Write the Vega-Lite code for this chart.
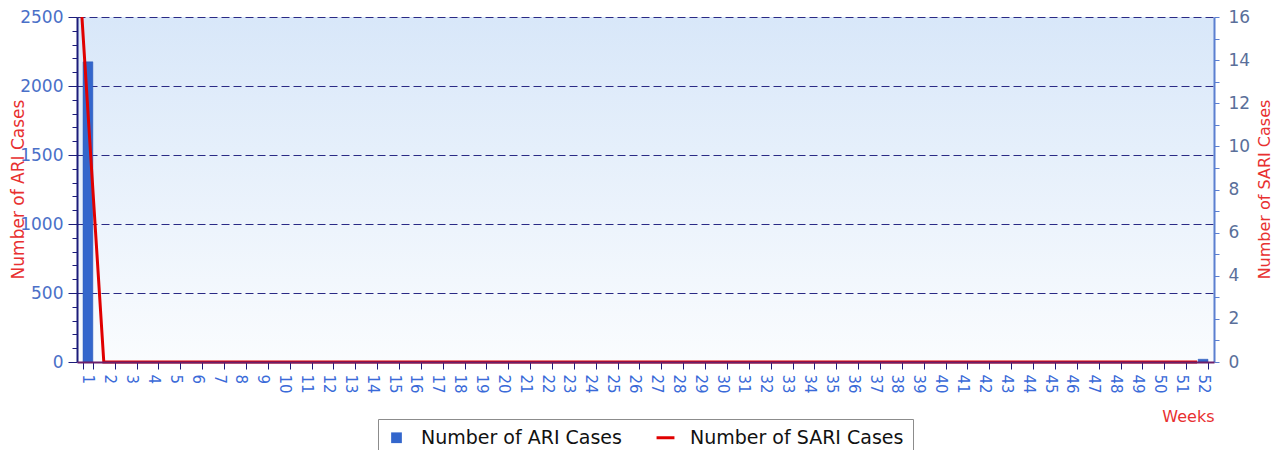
{
  "$schema": "https://vega.github.io/schema/vega-lite/v6.json",
  "width": 1137,
  "height": 345,
  "autosize": {"type": "none"},
  "padding": {"left": 77, "top": 17, "right": 59, "bottom": 88},
  "background": "#ffffff",
  "view": {
    "stroke": null,
    "fill": {
      "gradient": "linear", "x1": 0, "y1": 0, "x2": 0, "y2": 1,
      "stops": [{"offset": 0, "color": "#d8e7f9"}, {"offset": 1, "color": "#fafcfe"}]
    }
  },
  "config": {"font": "DejaVu Sans"},
  "data": {
    "values": [
      {"week": 1, "ari": 2175, "sari": 16},
      {"week": 2, "ari": 0, "sari": 0},
      {"week": 3, "ari": 0, "sari": 0},
      {"week": 4, "ari": 0, "sari": 0},
      {"week": 5, "ari": 0, "sari": 0},
      {"week": 6, "ari": 0, "sari": 0},
      {"week": 7, "ari": 0, "sari": 0},
      {"week": 8, "ari": 0, "sari": 0},
      {"week": 9, "ari": 0, "sari": 0},
      {"week": 10, "ari": 0, "sari": 0},
      {"week": 11, "ari": 0, "sari": 0},
      {"week": 12, "ari": 0, "sari": 0},
      {"week": 13, "ari": 0, "sari": 0},
      {"week": 14, "ari": 0, "sari": 0},
      {"week": 15, "ari": 0, "sari": 0},
      {"week": 16, "ari": 0, "sari": 0},
      {"week": 17, "ari": 0, "sari": 0},
      {"week": 18, "ari": 0, "sari": 0},
      {"week": 19, "ari": 0, "sari": 0},
      {"week": 20, "ari": 0, "sari": 0},
      {"week": 21, "ari": 0, "sari": 0},
      {"week": 22, "ari": 0, "sari": 0},
      {"week": 23, "ari": 0, "sari": 0},
      {"week": 24, "ari": 0, "sari": 0},
      {"week": 25, "ari": 0, "sari": 0},
      {"week": 26, "ari": 0, "sari": 0},
      {"week": 27, "ari": 0, "sari": 0},
      {"week": 28, "ari": 0, "sari": 0},
      {"week": 29, "ari": 0, "sari": 0},
      {"week": 30, "ari": 0, "sari": 0},
      {"week": 31, "ari": 0, "sari": 0},
      {"week": 32, "ari": 0, "sari": 0},
      {"week": 33, "ari": 0, "sari": 0},
      {"week": 34, "ari": 0, "sari": 0},
      {"week": 35, "ari": 0, "sari": 0},
      {"week": 36, "ari": 0, "sari": 0},
      {"week": 37, "ari": 0, "sari": 0},
      {"week": 38, "ari": 0, "sari": 0},
      {"week": 39, "ari": 0, "sari": 0},
      {"week": 40, "ari": 0, "sari": 0},
      {"week": 41, "ari": 0, "sari": 0},
      {"week": 42, "ari": 0, "sari": 0},
      {"week": 43, "ari": 0, "sari": 0},
      {"week": 44, "ari": 0, "sari": 0},
      {"week": 45, "ari": 0, "sari": 0},
      {"week": 46, "ari": 0, "sari": 0},
      {"week": 47, "ari": 0, "sari": 0},
      {"week": 48, "ari": 0, "sari": 0},
      {"week": 49, "ari": 0, "sari": 0},
      {"week": 50, "ari": 0, "sari": 0},
      {"week": 51, "ari": 0, "sari": 0},
      {"week": 52, "ari": 20, "sari": 0}
    ]
  },
  "encoding": {
    "x": {
      "field": "week",
      "type": "ordinal",
      "scale": {"paddingInner": 0.55, "paddingOuter": 0.275},
      "axis": {
        "title": "Weeks",
        "labelAngle": 90,
        "labelFontSize": 15,
        "labelColor": "#3a6ad8",
        "labelPadding": 5,
        "tickSize": 7,
        "tickColor": "#1c1c7a",
        "tickBand": "extent",
        "domainColor": "#6b1f6b",
        "domainWidth": 2,
        "titleColor": "#e83030",
        "titleFontSize": 16,
        "titleFontWeight": "normal",
        "titleAnchor": "end",
        "titleAlign": "right",
        "titleBaseline": "middle",
        "titleX": 1137,
        "titleY": 54,
        "zindex": 1,
        "grid": false
      }
    }
  },
  "layer": [
    {
      "mark": {"type": "bar", "stroke": "#2b58b8", "strokeWidth": 0.5},
      "encoding": {
        "y": {
          "field": "ari",
          "type": "quantitative",
          "scale": {"domain": [0, 2500]},
          "axis": {
            "orient": "left",
            "title": "Number of ARI Cases",
            "values": [0, 100, 200, 300, 400, 500, 600, 700, 800, 900, 1000, 1100, 1200, 1300, 1400, 1500, 1600, 1700, 1800, 1900, 2000, 2100, 2200, 2300, 2400, 2500],
            "labelExpr": "datum.value % 500 === 0 ? datum.label : ''",
            "format": "d",
            "labelFontSize": 17,
            "labelColor": "#4a70c8",
            "labelPadding": 5,
            "tickSize": {"condition": {"test": "datum.value % 500 === 0", "value": 9}, "value": 5},
            "tickColor": "#1c1c7a",
            "domainColor": "#1c1c7a",
            "domainWidth": 2,
            "grid": true,
            "gridColor": "#2a2a85",
            "gridDash": [8, 4],
            "gridWidth": 1,
            "gridOpacity": {"condition": {"test": "datum.value % 500 === 0 && datum.value > 0", "value": 1}, "value": 0},
            "titleColor": "#e83030",
            "titleFontSize": 17,
            "titleFontWeight": "normal",
            "titleAngle": 270,
            "titleBaseline": "middle",
            "titleAlign": "center",
            "titleX": -59,
            "titleY": 172
          }
        },
        "color": {
          "datum": "Number of ARI Cases",
          "scale": {"domain": ["Number of ARI Cases", "Number of SARI Cases"], "range": ["#3366cc", "#e00000"]},
          "legend": {
            "title": null,
            "orient": "none",
            "legendX": 301,
            "legendY": 402,
            "direction": "horizontal",
            "strokeColor": "#8c8c8c",
            "fillColor": "#ffffff",
            "padding": 9,
            "labelFontSize": 19,
            "labelColor": "#111111",
            "labelLimit": 0,
            "labelOffset": 15,
            "columnPadding": 28,
            "symbolSize": 300,
            "encode": {
              "symbols": {
                "update": {
                  "shape": {"signal": "datum.value === 'Number of ARI Cases' ? 'square' : 'stroke'"},
                  "size": {"signal": "datum.value === 'Number of ARI Cases' ? 115 : 320"},
                  "strokeWidth": {"signal": "datum.value === 'Number of ARI Cases' ? 0 : 3"},
                  "fill": {"signal": "datum.value === 'Number of ARI Cases' ? '#3366cc' : 'transparent'"},
                  "stroke": {"signal": "datum.value === 'Number of ARI Cases' ? '#3366cc' : '#d0001a'"},
                  "opacity": {"value": 1}
                }
              }
            }
          }
        }
      }
    },
    {
      "mark": {"type": "line", "strokeWidth": 3, "xOffset": -6},
      "encoding": {
        "y": {
          "field": "sari",
          "type": "quantitative",
          "scale": {"domain": [0, 16]},
          "axis": {
            "orient": "right",
            "title": "Number of SARI Cases",
            "values": [0, 1, 2, 3, 4, 5, 6, 7, 8, 9, 10, 11, 12, 13, 14, 15, 16],
            "labelExpr": "datum.value % 2 === 0 ? datum.label : ''",
            "labelFontSize": 17,
            "labelColor": "#5a6f9a",
            "labelPadding": 9,
            "tickSize": 5,
            "tickColor": "#5b7fd0",
            "domainColor": "#5b7fd0",
            "domainWidth": 2,
            "grid": false,
            "titleColor": "#e83030",
            "titleFontSize": 16,
            "titleFontWeight": "normal",
            "titleAngle": 270,
            "titleBaseline": "middle",
            "titleAlign": "center",
            "titleX": 50,
            "titleY": 172
          }
        },
        "color": {
          "datum": "Number of SARI Cases",
          "legend": {
            "title": null,
            "orient": "none",
            "legendX": 301,
            "legendY": 402,
            "direction": "horizontal",
            "strokeColor": "#8c8c8c",
            "fillColor": "#ffffff",
            "padding": 9,
            "labelFontSize": 19,
            "labelColor": "#111111",
            "labelLimit": 0,
            "labelOffset": 15,
            "columnPadding": 28,
            "symbolSize": 300,
            "encode": {
              "symbols": {
                "update": {
                  "shape": {"signal": "datum.value === 'Number of ARI Cases' ? 'square' : 'stroke'"},
                  "size": {"signal": "datum.value === 'Number of ARI Cases' ? 115 : 320"},
                  "strokeWidth": {"signal": "datum.value === 'Number of ARI Cases' ? 0 : 3"},
                  "fill": {"signal": "datum.value === 'Number of ARI Cases' ? '#3366cc' : 'transparent'"},
                  "stroke": {"signal": "datum.value === 'Number of ARI Cases' ? '#3366cc' : '#d0001a'"},
                  "opacity": {"value": 1}
                }
              }
            }
          }
        }
      }
    }
  ],
  "resolve": {"scale": {"y": "independent"}}
}
